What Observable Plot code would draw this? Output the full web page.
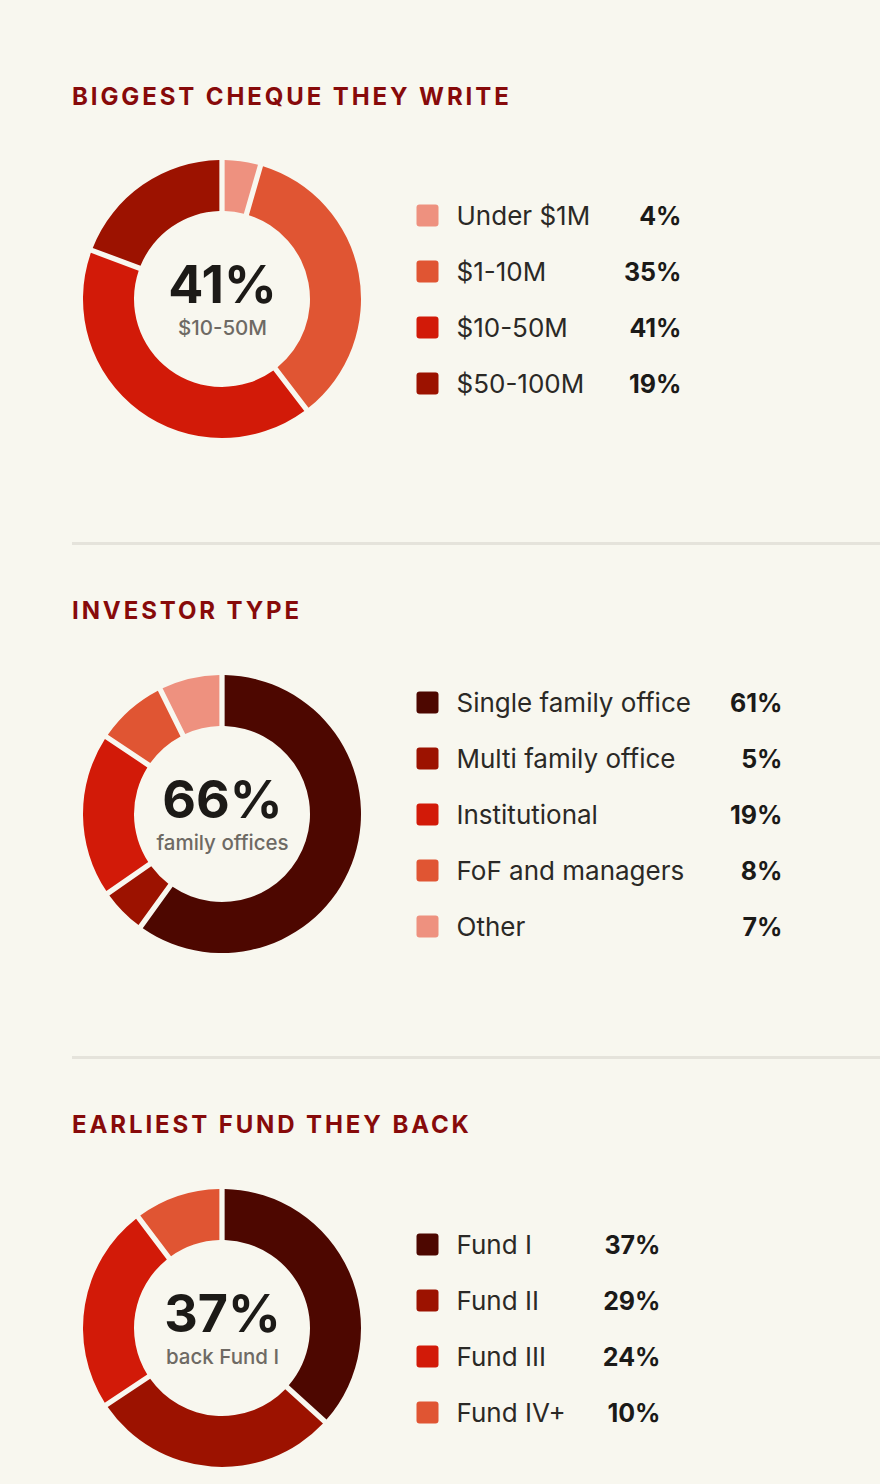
<!DOCTYPE html>
<html>
<head>
<meta charset="utf-8">
<script src="https://cdn.jsdelivr.net/npm/d3@7"></script>
<script src="https://cdn.jsdelivr.net/npm/@observablehq/plot@0.6"></script>
<style>
  html, body { margin: 0; padding: 0; background: #F8F7EF; }
  #page { position: relative; width: 880px; height: 1484px; overflow: hidden; font-family: Inter, "Noto Sans", sans-serif; }
  .title { position: absolute; left: 72px; font: 700 24px/24px Inter, sans-serif; letter-spacing: 2.9px; color: #870A0A; white-space: nowrap; }
  .sep { position: absolute; left: 72px; right: 0; height: 3px; background: #E5E3DB; }
  .chart { position: absolute; left: 0; }
</style>
</head>
<body>
<div id="page"></div>
<script>
// ---- data ----
const sectionTitles = ["BIGGEST CHEQUE THEY WRITE", "INVESTOR TYPE", "EARLIEST FUND THEY BACK"];

const chequeLabels = ["Under $1M", "$1-10M", "$10-50M", "$50-100M"];
const chequeValues = [4, 35, 41, 19];

const investorLabels = ["Single family office", "Multi family office", "Institutional", "FoF and managers", "Other"];
const investorValues = [61, 5, 19, 8, 7];

const fundLabels = ["Fund I", "Fund II", "Fund III", "Fund IV+"];
const fundValues = [37, 29, 24, 10];

const centerValues = ["41%", "66%", "37%"];
const centerLabels = ["$10-50M", "family offices", "back Fund I"];

// ---- palette ----
const LIGHT = "#EE917F", ORANGE = "#E05533", RED = "#D21A08", DARK = "#9C1200", DARKEST = "#4D0700";
const chequeColors = [LIGHT, ORANGE, RED, DARK];
const investorColors = [DARKEST, DARK, RED, ORANGE, LIGHT];
const fundColors = [DARKEST, DARK, RED, ORANGE];

// ---- layout ----
const sections = [
  {labels: chequeLabels, values: chequeValues, colors: chequeColors, titleTop: 85, svgTop: 149, sepTop: 542, valueRight: 681},
  {labels: investorLabels, values: investorValues, colors: investorColors, titleTop: 599, svgTop: 664, sepTop: 1056, valueRight: 782},
  {labels: fundLabels, values: fundValues, colors: fundColors, titleTop: 1113, svgTop: 1178, sepTop: null, valueRight: 660}
];
const W = 880, H = 300, CX = 222, CY = 150, R_OUT = 139, R_IN = 88, ROW = 56;
const SWATCH_X = 427, LABEL_X = 456;

const roundedSquare = {
  draw(ctx, size) {
    const h = Math.sqrt(size / Math.PI), r = 3;
    ctx.moveTo(-h + r, -h);
    ctx.lineTo(h - r, -h); ctx.arcTo(h, -h, h, -h + r, r);
    ctx.lineTo(h, h - r); ctx.arcTo(h, h, h - r, h, r);
    ctx.lineTo(-h + r, h); ctx.arcTo(-h, h, -h, h - r, r);
    ctx.lineTo(-h, -h + r); ctx.arcTo(-h, -h, -h + r, -h, r);
    ctx.closePath();
  }
};

const page = document.getElementById("page");

sections.forEach((s, k) => {
  const t = document.createElement("div");
  t.className = "title";
  t.style.top = s.titleTop + "px";
  t.textContent = sectionTitles[k];
  page.appendChild(t);

  if (s.sepTop != null) {
    const sep = document.createElement("div");
    sep.className = "sep";
    sep.style.top = s.sepTop + "px";
    page.appendChild(sep);
  }

  const data = s.labels.map((label, i) => ({label, value: s.values[i]}));
  const n = data.length;
  const pie = d3.pie().sort(null).value(d => d.value).padAngle(0.032)(data);
  const arc = d3.arc().innerRadius(R_IN).outerRadius(R_OUT);

  const donut = (index, scales) => {
    const g = d3.create("svg:g").attr("transform", `translate(${CX},${CY})`);
    g.selectAll("path").data(pie).join("path")
      .attr("d", arc)
      .attr("fill", d => scales.color(d.data.label));
    return g.node();
  };

  const chart = Plot.plot({
    width: W, height: H, margin: 0,
    style: {background: "transparent", fontFamily: "Inter, sans-serif", overflow: "visible"},
    x: {type: "identity", axis: null},
    y: {type: "point", domain: s.labels, range: [CY - (n - 1) * ROW / 2, CY + (n - 1) * ROW / 2], padding: 0, axis: null},
    color: {type: "ordinal", domain: s.labels, range: s.colors},
    marks: [
      donut,
      Plot.text([centerValues[k]], {x: CX, frameAnchor: "middle", text: d => d, lineAnchor: "bottom", dy: 3,
        fontSize: 52, fontWeight: 700, fill: "#1C1A17"}),
      Plot.text([centerLabels[k]], {x: CX, frameAnchor: "middle", text: d => d, lineAnchor: "bottom", dy: 35,
        fontSize: 20.5, fontWeight: 500, fill: "#6E6A64"}),
      Plot.dot(data, {x: SWATCH_X, y: "label", r: 11, symbol: roundedSquare, fill: "label"}),
      Plot.text(data, {x: LABEL_X, y: "label", text: "label", textAnchor: "start", dy: 1,
        fontSize: 26, fill: "#2B2926"}),
      Plot.text(data, {x: s.valueRight, y: "label", text: d => d.value + "%", textAnchor: "end", dy: 1,
        fontSize: 25, fontWeight: 700, fill: "#1B1A18"})
    ]
  });
  chart.classList.add("chart");
  chart.style.position = "absolute";
  chart.style.top = s.svgTop + "px";
  chart.style.left = "0px";
  page.appendChild(chart);
});
</script>
</body>
</html>
